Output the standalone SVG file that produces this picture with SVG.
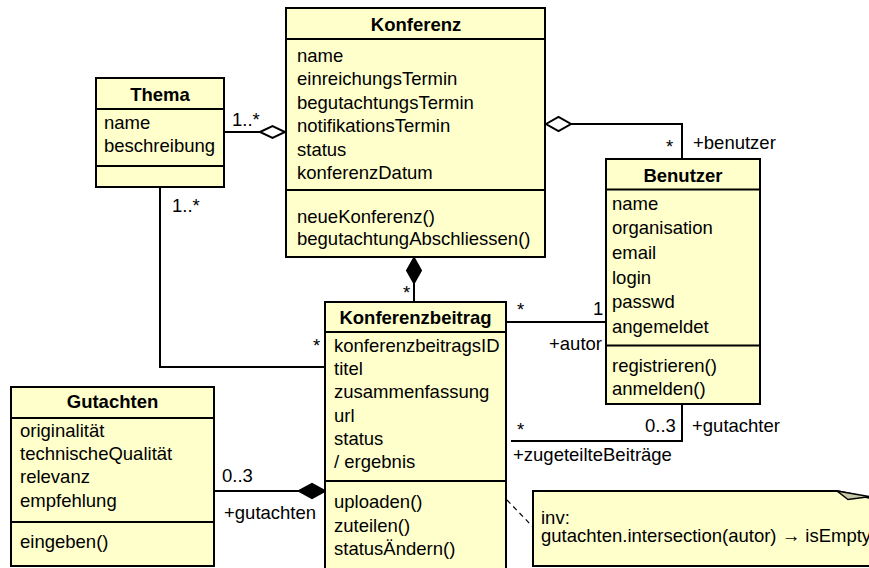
<svg xmlns="http://www.w3.org/2000/svg" width="869" height="568" viewBox="0 0 869 568">
<style>
.box{fill:#ffffcc;stroke:#000;stroke-width:2}
.sep{stroke:#000;stroke-width:2}
text{font-family:"Liberation Sans",Arial,sans-serif;font-size:18.5px;fill:#000}
.hd{font-weight:bold;text-anchor:middle}
.ln{fill:none;stroke:#000;stroke-width:2}
.od{fill:#fff;stroke:#000;stroke-width:2}
.fd{fill:#000;stroke:#000;stroke-width:2}
</style>
<rect width="869" height="568" fill="#fff"/>
<g id="connectors">
<polyline class="ln" points="224,132 260,132"/>
<polygon class="od" points="260,132 272.5,126 285,132 272.5,138"/>
<polyline class="ln" points="571,124 682,124 682,159"/>
<polygon class="od" points="546,124 558.5,117 571,124 558.5,131"/>
<polyline class="ln" points="414,283 414,302"/>
<polygon class="fd" points="414,258 421,270.5 414,283 407,270.5"/>
<polyline class="ln" points="160,187 160,367 325,367"/>
<polyline class="ln" points="506,322 606,322"/>
<polyline class="ln" points="682,404 682,441 511,441"/>
<polyline class="ln" points="214,491 299,491"/>
<polygon class="fd" points="299,491 312,484 325,491 312,498"/>
<line x1="507" y1="500" x2="533" y2="527" stroke="#000" stroke-width="1.2" stroke-dasharray="5,4"/>
<text x="232" y="126">1..*</text>
<text x="172" y="212">1..*</text>
<text x="403" y="299">*</text>
<text x="313" y="352">*</text>
<text x="517" y="316">*</text>
<text x="593" y="315">1</text>
<text x="549" y="350">+autor</text>
<text x="666" y="153">*</text>
<text x="693" y="149">+benutzer</text>
<text x="517" y="436">*</text>
<text x="645" y="432">0..3</text>
<text x="692" y="432">+gutachter</text>
<text x="513" y="461">+zugeteilteBeiträge</text>
<text x="222" y="482">0..3</text>
<text x="224" y="519">+gutachten</text>
</g>
<g id="Konferenz">
<rect class="box" x="286" y="8" width="259" height="249"/>
<line class="sep" x1="286" y1="39" x2="545" y2="39"/>
<line class="sep" x1="286" y1="190" x2="545" y2="190"/>
<text class="hd" x="416" y="31">Konferenz</text>
<text x="297" y="62">name</text>
<text x="297" y="85">einreichungsTermin</text>
<text x="297" y="109">begutachtungsTermin</text>
<text x="297" y="132">notifikationsTermin</text>
<text x="297" y="156">status</text>
<text x="297" y="179">konferenzDatum</text>
<text x="297" y="223">neueKonferenz()</text>
<text x="297" y="245">begutachtungAbschliessen()</text>
</g>
<g id="Thema">
<rect class="box" x="96" y="78" width="128" height="109"/>
<line class="sep" x1="96" y1="109" x2="224" y2="109"/>
<line class="sep" x1="96" y1="166" x2="224" y2="166"/>
<text class="hd" x="160" y="101">Thema</text>
<text x="104" y="129">name</text>
<text x="104" y="152">beschreibung</text>
</g>
<g id="Benutzer">
<rect class="box" x="606" y="159" width="154" height="245"/>
<line class="sep" x1="606" y1="189.5" x2="760" y2="189.5"/>
<line class="sep" x1="606" y1="345.5" x2="760" y2="345.5"/>
<text class="hd" x="683" y="182">Benutzer</text>
<text x="612" y="210">name</text>
<text x="612" y="234">organisation</text>
<text x="612" y="259">email</text>
<text x="612" y="284">login</text>
<text x="612" y="308">passwd</text>
<text x="612" y="333">angemeldet</text>
<text x="612" y="372">registrieren()</text>
<text x="612" y="395">anmelden()</text>
</g>
<g id="Konferenzbeitrag">
<rect class="box" x="325" y="302" width="181" height="275"/>
<line class="sep" x1="325" y1="332" x2="506" y2="332"/>
<line class="sep" x1="325" y1="481" x2="506" y2="481"/>
<text class="hd" x="415.5" y="324">Konferenzbeitrag</text>
<text x="334" y="352">konferenzbeitragsID</text>
<text x="334" y="375">titel</text>
<text x="334" y="398">zusammenfassung</text>
<text x="334" y="422">url</text>
<text x="334" y="445">status</text>
<text x="334" y="468">/ ergebnis</text>
<text x="334" y="508">uploaden()</text>
<text x="334" y="532">zuteilen()</text>
<text x="334" y="555">statusÄndern()</text>
</g>
<g id="Gutachten">
<rect class="box" x="11" y="387" width="203" height="179"/>
<line class="sep" x1="11" y1="418" x2="214" y2="418"/>
<line class="sep" x1="11" y1="522" x2="214" y2="522"/>
<text class="hd" x="112.5" y="408">Gutachten</text>
<text x="20" y="437">originalität</text>
<text x="20" y="460">technischeQualität</text>
<text x="20" y="483">relevanz</text>
<text x="20" y="507">empfehlung</text>
<text x="20" y="548">eingeben()</text>
</g>
<g id="note">
<path class="box" d="M533,491 H837 L880,500 V566 H533 Z"/>
<polygon points="837,491 848,499.5 870,496.7" fill="#c8c8a8" stroke="#000" stroke-width="1.5"/>
<text x="541" y="524">inv:</text>
<text x="541" y="542">gutachten.intersection(autor) → isEmpty</text>
</g>
</svg>
